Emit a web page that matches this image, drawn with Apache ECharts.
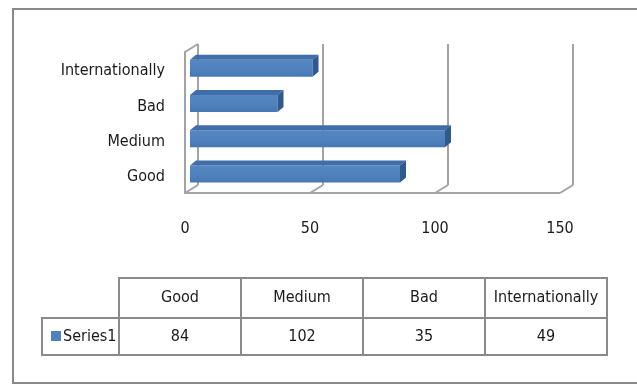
<!DOCTYPE html>
<html>
<head>
<meta charset="utf-8">
<script src="https://cdn.jsdelivr.net/npm/echarts@6/dist/echarts.min.js"></script>
<style>
  html, body { margin: 0; padding: 0; background: #fff; }
  #chart { width: 637px; height: 385px; }
</style>
</head>
<body>
<div id="chart"></div>
<script>
// Chart data
var categories = ['Good', 'Medium', 'Bad', 'Internationally'];
var seriesName = 'Series1';
var seriesValues = [84, 102, 35, 49];
var axisTicks = [0, 50, 100, 150];

var FONT = "'Liberation Sans Narrow', 'DejaVu Sans Condensed', 'Arial Narrow', sans-serif";
var LINE = '#a3a3a3';
var BORDER = '#8a8a8a';
var BLUE = '#4f81bd';
var BLUE_TOP = '#3f6ea8';
var BLUE_SIDE = '#2f5a8e';

// depth of the 3D box: front plane sits left/below the back plane
var DEPTH_X = -13, DEPTH_Y = 8;
// bars sit partway into the box
var BAR_DX = -8;

var chart = echarts.init(document.getElementById('chart'), null, { renderer: 'canvas' });

// Floor and side wall of the 3D box, one group per axis tick
function renderFrame(params, api) {
  var cs = params.coordSys;
  var v = api.value(0);
  var bx = api.coord([v, 0])[0];
  var top = cs.y, bottom = cs.y + cs.height;
  var style = { stroke: LINE, lineWidth: 2, fill: null };
  var children = [{
    type: 'line',
    shape: { x1: bx + DEPTH_X, y1: bottom + DEPTH_Y, x2: bx, y2: bottom },
    style: style
  }];
  if (params.dataIndex === 0) {
    var lastX = api.coord([axisTicks[axisTicks.length - 1], 0])[0];
    children.push({
      type: 'polyline',
      shape: { points: [[bx, top], [bx + DEPTH_X, top + DEPTH_Y], [bx + DEPTH_X, bottom + DEPTH_Y], [lastX + DEPTH_X, bottom + DEPTH_Y]] },
      style: style
    });
  }
  return { type: 'group', children: children };
}

// 3D bars: front face, top face and end face
function renderBar(params, api) {
  var cat = api.value(0);
  var val = api.value(1);
  var end = api.coord([val, cat]);
  var start = api.coord([0, cat]);
  var x0 = start[0] + BAR_DX, x1 = end[0] + BAR_DX;
  var yc = end[1];
  var fy0 = yc - 2, fy1 = yc + 15;
  var dx = 6, dy = -5;
  return {
    type: 'group',
    children: [
      {
        type: 'rect',
        shape: { x: x0, y: fy0, width: x1 - x0, height: fy1 - fy0 },
        style: {
          fill: new echarts.graphic.LinearGradient(0, 0, 0, 1, [
            { offset: 0, color: '#5687c4' },
            { offset: 0.6, color: BLUE },
            { offset: 1, color: '#4677b3' }
          ])
        }
      },
      {
        type: 'polygon',
        shape: { points: [[x0, fy0], [x0 + dx, fy0 + dy], [x1 + dx, fy0 + dy], [x1, fy0]] },
        style: { fill: BLUE_TOP }
      },
      {
        type: 'polygon',
        shape: { points: [[x1, fy0], [x1 + dx, fy0 + dy], [x1 + dx, fy1 + dy], [x1, fy1]] },
        style: { fill: BLUE_SIDE }
      }
    ]
  };
}

// Data table under the chart
function buildTable() {
  var left = 119, colW = 122, headTop = 278, rowTop = 318, rowBottom = 355, labelLeft = 42;
  var els = [];
  var stroke = { stroke: BORDER, lineWidth: 2, fill: null };
  var textStyle = function (t, x, y) {
    return {
      type: 'text', x: x, y: y,
      style: { text: t, font: '16px ' + FONT, fill: '#1a1a1a', align: 'center', verticalAlign: 'middle' }
    };
  };
  els.push({ type: 'rect', shape: { x: labelLeft, y: rowTop, width: left - labelLeft, height: rowBottom - rowTop }, style: stroke });
  for (var i = 0; i < categories.length; i++) {
    var x = left + i * colW;
    els.push({ type: 'rect', shape: { x: x, y: headTop, width: colW, height: rowTop - headTop }, style: stroke });
    els.push({ type: 'rect', shape: { x: x, y: rowTop, width: colW, height: rowBottom - rowTop }, style: stroke });
    els.push(textStyle(categories[i], x + colW / 2, (headTop + rowTop) / 2));
    els.push(textStyle(String(seriesValues[i]), x + colW / 2, (rowTop + rowBottom) / 2));
  }
  els.push({ type: 'rect', shape: { x: 51, y: 331, width: 10, height: 10 }, style: { fill: BLUE } });
  els.push({
    type: 'text', x: 63, y: (rowTop + rowBottom) / 2,
    style: { text: seriesName, font: '16px ' + FONT, fill: '#1a1a1a', align: 'left', verticalAlign: 'middle' }
  });
  return els;
}

var option = {
  animation: false,
  backgroundColor: '#fff',
  grid: { left: 198, top: 44, width: 375, height: 141, containLabel: false },
  xAxis: {
    type: 'value',
    min: 0, max: 150, interval: 50,
    axisLine: { show: false },
    axisTick: { show: false },
    splitLine: { show: true, lineStyle: { color: LINE, width: 2 } },
    axisLabel: {
      margin: 36,
      padding: [0, 26, 0, 0],
      fontFamily: FONT, fontSize: 16, color: '#1a1a1a',
      customValues: axisTicks
    }
  },
  yAxis: {
    type: 'category',
    data: categories,
    axisLine: { show: false },
    axisTick: { show: false },
    splitLine: { show: false },
    axisLabel: {
      margin: 33,
      formatter: function (v) { return '{c|' + v + '}'; },
      rich: {
        c: { padding: [19, 0, 0, 0], fontFamily: FONT, fontSize: 16, color: '#1a1a1a' }
      }
    }
  },
  series: [
    {
      type: 'custom',
      name: 'frame',
      renderItem: renderFrame,
      data: axisTicks.map(function (t) { return [t]; }),
      encode: { x: 0 },
      silent: true,
      z: 1
    },
    {
      type: 'custom',
      name: seriesName,
      renderItem: renderBar,
      data: seriesValues.map(function (v, i) { return [i, v]; }),
      encode: { y: 0, x: 1 },
      z: 3
    }
  ],
  graphic: [
    {
      type: 'rect',
      shape: { x: 13, y: 9, width: 640, height: 374 },
      style: { fill: null, stroke: BORDER, lineWidth: 2 },
      silent: true
    },
    { type: 'group', children: buildTable() }
  ]
};

chart.setOption(option);
</script>
</body>
</html>
